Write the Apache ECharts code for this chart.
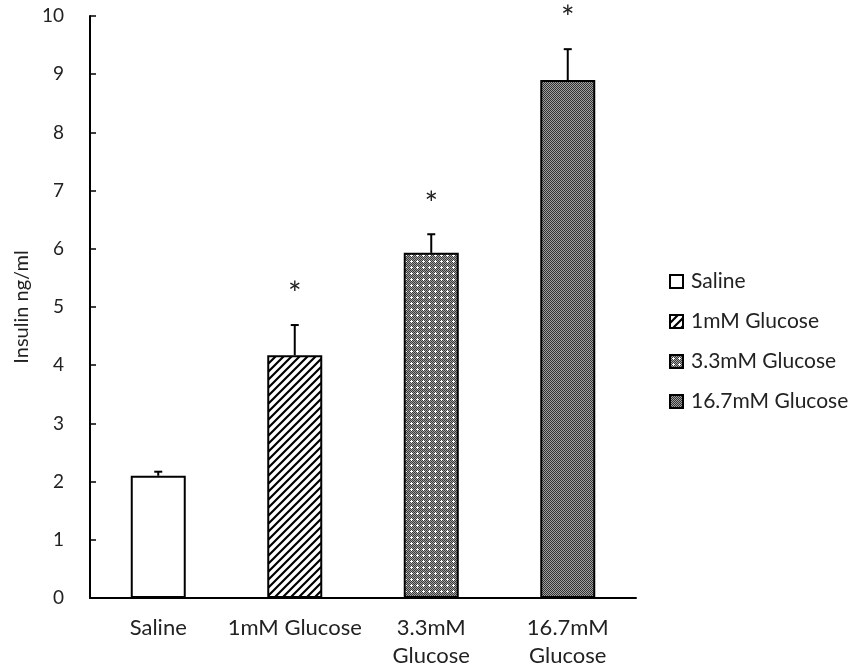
<!DOCTYPE html>
<html>
<head>
<meta charset="utf-8">
<script src="https://cdn.jsdelivr.net/npm/echarts@6/dist/echarts.min.js"></script>
<style>
  html, body { margin: 0; padding: 0; background: #fff; }
  #chart { width: 852px; height: 672px; }
</style>
</head>
<body>
<div id="chart"></div>
<script>
// data
var categories = ['Saline', '1mM Glucose', '3.3mM\nGlucose', '16.7mM\nGlucose'];
var seriesNames = ['Saline', '1mM Glucose', '3.3mM Glucose', '16.7mM Glucose'];
var means = [2.1, 4.17, 5.93, 8.9];
var errors = [0.07, 0.52, 0.32, 0.53];
var significant = [false, true, true, true];
var yTicks = [0, 1, 2, 3, 4, 5, 6, 7, 8, 9, 10];

var FONT = 'Lato';

// fill patterns
function makeTile(w, h, draw) {
    var c = document.createElement('canvas');
    c.width = w; c.height = h;
    draw(c.getContext('2d'));
    return c;
}
var hatch = makeTile(8, 8, function (ctx) {
    ctx.fillStyle = '#fff';
    ctx.fillRect(0, 0, 8, 8);
    ctx.strokeStyle = '#000';
    ctx.lineWidth = 2.2;
    ctx.beginPath();
    ctx.moveTo(-2, 10); ctx.lineTo(10, -2);
    ctx.moveTo(-6, 6); ctx.lineTo(6, -6);
    ctx.moveTo(2, 14); ctx.lineTo(14, 2);
    ctx.stroke();
});
var dots = makeTile(6, 6, function (ctx) {
    for (var x = 0; x < 6; x++) {
        for (var y = 0; y < 6; y++) {
            ctx.fillStyle = ((x + y) % 2 === 0) ? '#3a3a3a' : '#a0a0a0';
            ctx.fillRect(x, y, 1, 1);
        }
    }
    ctx.fillStyle = '#fff';
    ctx.fillRect(3, 2, 1, 3);
    ctx.fillRect(2, 3, 3, 1);
});
var checker = makeTile(2, 2, function (ctx) {
    ctx.fillStyle = '#a0a0a0';
    ctx.fillRect(0, 0, 2, 2);
    ctx.fillStyle = '#333';
    ctx.fillRect(0, 0, 1, 1);
    ctx.fillRect(1, 1, 1, 1);
});
var fills = ['#ffffff', { image: hatch, repeat: 'repeat' }, { image: dots, repeat: 'repeat' }, { image: checker, repeat: 'repeat' }];

var chart = echarts.init(document.getElementById('chart'));

var seriesData = [];
for (var i = 0; i < seriesNames.length; i++) {
    var vals = [];
    for (var j = 0; j < categories.length; j++) {
        vals.push(j === i ? means[j] : '-');
    }
    seriesData.push({
        name: seriesNames[i],
        type: 'bar',
        data: vals,
        barWidth: 55,
        barGap: '-100%',
        itemStyle: {
            color: fills[i],
            borderColor: '#000',
            borderWidth: 2
        },
        z: 2
    });
}

var errData = [];
for (var k = 0; k < means.length; k++) {
    errData.push([k, means[k], errors[k], significant[k] ? 1 : 0]);
}
seriesData.push({
    type: 'custom',
    data: errData,
    z: 5,
    renderItem: function (params, api) {
        var idx = api.value(0);
        var base = api.coord([idx, api.value(1)]);
        var top = api.coord([idx, api.value(1) + api.value(2)]);
        var children = [
            { type: 'line', shape: { x1: base[0], y1: base[1], x2: top[0], y2: top[1] }, style: { stroke: '#000', lineWidth: 2 } },
            { type: 'line', shape: { x1: top[0] - 4, y1: top[1], x2: top[0] + 4, y2: top[1] }, style: { stroke: '#000', lineWidth: 2 } }
        ];
        if (api.value(3)) {
            children.push({
                type: 'text',
                style: {
                    text: '*', x: top[0], y: top[1] - 30,
                    fill: '#222', font: '32px ' + FONT,
                    align: 'center', verticalAlign: 'middle'
                }
            });
        }
        return { type: 'group', children: children };
    }
});

var option = {
    backgroundColor: '#fff',
    animation: false,
    grid: { left: 90, right: 216, top: 16, bottom: 74, outerBoundsMode: 'none', containLabel: false },
    legend: {
        data: seriesNames,
        orient: 'vertical',
        left: 664,
        top: 266,
        itemWidth: 13,
        itemHeight: 13,
        itemGap: 19,
        icon: 'rect',
        itemStyle: { borderColor: '#000', borderWidth: 2 },
        textStyle: { fontFamily: FONT, fontSize: 21, lineHeight: 20, color: '#222', padding: [0, 0, 0, 3] }
    },
    xAxis: {
        type: 'category',
        data: categories,
        axisLine: { lineStyle: { color: '#000', width: 2 } },
        axisTick: { show: false },
        axisLabel: { fontFamily: FONT, fontSize: 22, color: '#222', margin: 16, lineHeight: 28, interval: 0 }
    },
    yAxis: {
        type: 'value',
        min: yTicks[0],
        max: yTicks[yTicks.length - 1],
        interval: 1,
        name: 'Insulin ng/ml',
        nameLocation: 'middle',
        nameGap: 55,
        nameTextStyle: { fontFamily: FONT, fontSize: 20, color: '#222' },
        splitLine: { show: false },
        axisLine: { show: true, lineStyle: { color: '#000', width: 2 } },
        axisTick: { show: true, inside: true, length: 6, lineStyle: { color: '#000', width: 1.5 } },
        axisLabel: { fontFamily: FONT, fontSize: 19, color: '#222', margin: 26 }
    },
    series: seriesData
};
chart.setOption(option);
</script>
</body>
</html>
